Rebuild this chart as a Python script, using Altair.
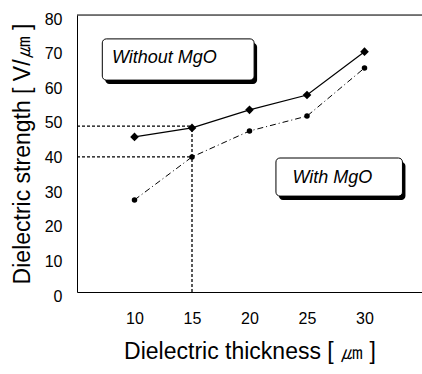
import altair as alt
import pandas as pd

thickness = [10, 15, 20, 25, 30]
without_mgo = [44.8, 47.4, 52.6, 56.9, 69.4]
with_mgo = [26.6, 39, 46.5, 50.8, 64.7]

y_ticks = [0, 10, 20, 30, 40, 50, 60, 70, 80]
x_ticks = [10, 15, 20, 25, 30]

# dotted guide lines (x, x2, y, y2)
guide_x = [5, 5, 15]
guide_x2 = [15, 15, 15]
guide_y = [47.9, 39, 0]
guide_y2 = [47.9, 39, 47.9]

# label boxes
box_label = ["Without MgO", "With MgO"]
box_x = [7.2, 22.3]
box_x2 = [20.4, 33.3]
box_y = [73.1, 38.7]
box_y2 = [61.2, 27.7]
box_tx = [12.6, 27.2]
box_ty = [67.6, 32.9]

FONT = "Liberation Sans"

df1 = pd.DataFrame({"x": thickness, "y": without_mgo})
df2 = pd.DataFrame({"x": thickness, "y": with_mgo})
guides = pd.DataFrame({"x": guide_x, "x2": guide_x2, "y": guide_y, "y2": guide_y2})
boxes = pd.DataFrame({"label": box_label, "x": box_x, "x2": box_x2, "y": box_y,
                      "y2": box_y2, "tx": box_tx, "ty": box_ty})
top = pd.DataFrame({"x": [5], "x2": [35], "y": [80]})

xs = alt.Scale(domain=[5, 35], nice=False)
ys = alt.Scale(domain=[0, 80], nice=False)

xax = alt.Axis(values=x_ticks, grid=False, ticks=False, labelPadding=18,
               title="Dielectric thickness [ ㎛ ]", titleFontSize=23,
               titleFontWeight="normal", titlePadding=14, labelFontSize=16,
               domainColor="black", labelColor="black", titleColor="black",
               labelFont=FONT, titleFont=FONT, labelOverlap=False)
yax = alt.Axis(values=y_ticks, grid=False, ticks=False, labelPadding=15,
               title="Dielectric strength [ V/㎛ ]", titleFontSize=23,
               titleFontWeight="normal", titlePadding=10, labelFontSize=16,
               labelOffset=4,
               domainColor="black", labelColor="black", titleColor="black",
               labelFont=FONT, titleFont=FONT, labelOverlap=False)

bx = alt.X("x:Q", scale=xs, axis=xax)
by = alt.Y("y:Q", scale=ys, axis=yax)

topline = alt.Chart(top).mark_rule(color="black", strokeWidth=1).encode(
    x=bx, x2="x2:Q", y=by)

guide = alt.Chart(guides).mark_rule(color="black", strokeWidth=1.3, strokeDash=[3, 2]).encode(
    x=bx, x2="x2:Q", y=by, y2="y2:Q")

line1 = alt.Chart(df1).mark_line(color="black", strokeWidth=1.2).encode(x=bx, y=by)
pts1 = alt.Chart(df1).mark_point(shape="diamond", filled=True, color="black", size=75,
                                 opacity=1).encode(x=bx, y=by)
line2 = alt.Chart(df2).mark_line(color="black", strokeWidth=1, strokeDash=[6, 3, 1, 3]).encode(
    x=bx, y=by)
pts2 = alt.Chart(df2).mark_point(shape="circle", filled=True, color="black", size=30,
                                 opacity=1).encode(x=bx, y=by)

shadow = alt.Chart(boxes).mark_rect(color="black", cornerRadius=4, xOffset=3, x2Offset=3,
                                    yOffset=4, y2Offset=4).encode(
    x=bx, x2="x2:Q", y=by, y2="y2:Q")
box = alt.Chart(boxes).mark_rect(fill="white", stroke="black", strokeWidth=1,
                                 cornerRadius=4).encode(
    x=bx, x2="x2:Q", y=by, y2="y2:Q")
txt = alt.Chart(boxes).mark_text(font=FONT, fontSize=18, fontStyle="italic",
                                 color="black").encode(
    x=alt.X("tx:Q", scale=xs, axis=xax), y=alt.Y("ty:Q", scale=ys, axis=yax),
    text="label:N")

chart = alt.layer(line1, line2, guide, topline, pts1, pts2, shadow, box, txt).properties(
    width=345, height=277,
    autosize=alt.AutoSizeParams(type="none"),
    padding={"left": 77, "top": 15, "right": 0, "bottom": 82},
).configure_view(stroke=None).configure(background="white")

chart.save("out.html", embed_options={"renderer": "svg", "actions": False})
